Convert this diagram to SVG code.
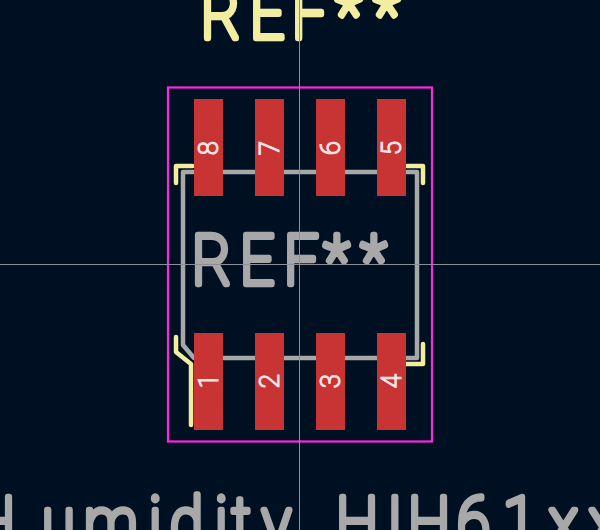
<svg xmlns="http://www.w3.org/2000/svg" width="600" height="530" viewBox="0 0 600 530">
<style>
.s{fill:none;stroke-linecap:round;stroke-linejoin:round}
.g{stroke:#a8a8a8;stroke-width:4.5}
.y{stroke:#f2eda1;stroke-width:4.5}
.pad{fill:#c83434}
.t{font-family:"Roboto",sans-serif;font-weight:100;stroke-linejoin:round;stroke-linecap:round}
.big{font-size:69px;stroke-width:6.500}
.gt{fill:#a8a8a8;stroke:#a8a8a8}
.yt{fill:#f2eda1;stroke:#f2eda1}
.n{font-family:"Roboto",sans-serif;font-weight:300;font-size:28px;fill:#f5e6e6;stroke:#f5e6e6;stroke-width:.9;text-anchor:middle}
</style>
<rect width="600" height="530" fill="#001023"/>
<g id="fab-outline"><path class="s g" d="M194 172H417V358H194L183 345V172H194"/></g>
<g id="silk">
<path class="s y" d="M176 183V166H192.500"/>
<path class="s y" d="M407 166H423V183"/>
<path class="s y" d="M423 344V364H406"/>
<path class="s y" d="M176 337V352L191 364V425"/>
</g>
<g id="courtyard"><rect x="168" y="87.500" width="264" height="354" fill="none" stroke="#ff26e2" stroke-width="2.200"/></g>
<g id="pad8"><rect class="pad" x="194" y="99" width="29" height="97"/><text class="n" transform="translate(218 148) rotate(-90) scale(.95 1)">8</text></g>
<g id="pad7"><rect class="pad" x="255" y="99" width="29" height="97"/><text class="n" transform="translate(279 148) rotate(-90) scale(.95 1)">7</text></g>
<g id="pad6"><rect class="pad" x="316" y="99" width="29" height="97"/><text class="n" transform="translate(340 148) rotate(-90) scale(.95 1)">6</text></g>
<g id="pad5"><rect class="pad" x="377" y="99" width="29" height="97"/><text class="n" transform="translate(401 148) rotate(-90) scale(.95 1)">5</text></g>
<g id="pad1"><rect class="pad" x="194" y="333" width="29" height="97"/><text class="n" transform="translate(218 381) rotate(-90) scale(.95 1)">1</text></g>
<g id="pad2"><rect class="pad" x="255" y="333" width="29" height="97"/><text class="n" transform="translate(279 381) rotate(-90) scale(.95 1)">2</text></g>
<g id="pad3"><rect class="pad" x="316" y="333" width="29" height="97"/><text class="n" transform="translate(340 381) rotate(-90) scale(.95 1)">3</text></g>
<g id="pad4"><rect class="pad" x="377" y="333" width="29" height="97"/><text class="n" transform="translate(401 381) rotate(-90) scale(.95 1)">4</text></g>
<g id="ref-top"><text class="t big yt" transform="scale(.87 1)" x="231 287.400 335.600 386.200 429.900" y="38">REF**</text></g>
<g id="ref-center"><text class="t big gt" transform="scale(.87 1)" x="220.700 275.900 326.400 372.400 414.900" y="284">REF**</text></g>
<g id="value"><text class="t big gt" transform="scale(.87 1)" x="-31 48.300 96.600 171.300 195.400 247.100 266.700 301.100 344.800 386.200 444.800 469 525.300 578.200 631 677" y="546">Humidity HIH61xx</text></g>
<g id="crosshair" stroke="#8a8f99" stroke-width="1"><path d="M299.500 0V530M0 264.500H600" fill="none"/></g>
</svg>
